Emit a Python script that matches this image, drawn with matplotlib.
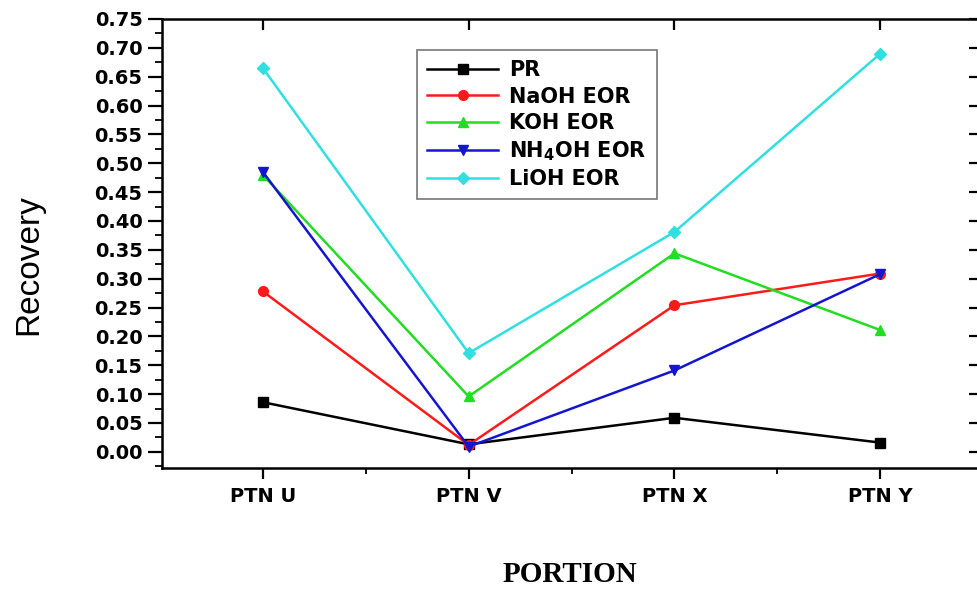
import matplotlib
matplotlib.use("Agg")
import matplotlib.pyplot as plt
import matplotlib.lines as mlines
from matplotlib.ticker import MultipleLocator, FixedLocator

categories = ["PTN U", "PTN V", "PTN X", "PTN Y"]
pr = [0.086, 0.013, 0.059, 0.016]
naoh = [0.278, 0.012, 0.254, 0.309]
koh = [0.480, 0.096, 0.344, 0.211]
nh4oh = [0.485, 0.009, 0.141, 0.308]
lioh = [0.665, 0.171, 0.381, 0.690]

series = [
    ("PR", pr, "#000000", "s"),
    ("NaOH EOR", naoh, "#ff1a1a", "o"),
    ("KOH EOR", koh, "#22dd22", "^"),
    (r"NH$_{\mathbf{4}}$OH EOR", nh4oh, "#1515d0", "v"),
    ("LiOH EOR", lioh, "#30e0e0", "D"),
]

plt.rcParams['mathtext.fontset'] = 'custom'
plt.rcParams['mathtext.bf'] = 'DejaVu Sans:bold'

fig = plt.figure(figsize=(9.77, 5.90), dpi=100)
ax = fig.add_axes([162/977, 1-468/590, 1-162/977, (468-19)/590])

x = list(range(1, len(categories)+1))
for label, vals, color, marker in series:
    ax.plot(x, vals, color=color, marker=marker, markersize=7 if marker != "D" else 6,
            linewidth=1.8, label=label)

ax.set_xlim(0.51, 4.47)
ax.set_ylim(-0.028, 0.75)
yt = [i*0.05 for i in range(16)]
ax.set_yticks(yt)
ax.set_yticklabels([f"{v:.2f}" for v in yt])
ax.yaxis.set_minor_locator(MultipleLocator(0.025))
ax.xaxis.set_major_locator(FixedLocator(x))
ax.xaxis.set_minor_locator(FixedLocator([1.5, 2.5, 3.5]))
ax.set_xticklabels(categories)

for s in ax.spines.values():
    s.set_linewidth(1.8)
ax.spines['right'].set_visible(False)

ax.tick_params(axis='y', which='major', direction='out', length=10, width=1.6,
               labelsize=14, pad=4, right=True)
ax.tick_params(axis='y', which='minor', direction='out', length=5, width=1.3, right=False)
ax.tick_params(axis='x', which='major', direction='out', length=8, width=1.6,
               labelsize=14, pad=6, top=True)
ax.tick_params(axis='x', which='minor', direction='out', length=4, width=1.3, top=False)
for lab in ax.get_yticklabels() + ax.get_xticklabels():
    lab.set_fontweight('bold')
    lab.set_family('DejaVu Sans')

# make top and right ticks point inward
for t in ax.xaxis.get_major_ticks():
    t.tick2line.set_marker(mlines.TICKDOWN)
for t in ax.yaxis.get_major_ticks():
    t.tick2line.set_marker(mlines.TICKLEFT)
    t.tick2line.set_markersize(6)

ax.set_ylabel("Recovery", fontsize=24, family='Liberation Sans')
ax.yaxis.set_label_coords(-0.145, 0.452)
fig.text(570/977, 1-575/590, "PORTION", fontsize=21, fontweight='bold',
         family='Liberation Serif', ha='center', va='center')

leg = ax.legend(loc='upper left', bbox_to_anchor=((417-162)/(977-162), 1-(50-19)/(468-19)),
                borderaxespad=0,
                prop={'family': 'DejaVu Sans', 'weight': 'bold', 'size': 15},
                frameon=True, fancybox=False, edgecolor='#555555', handlelength=3.4,
                labelspacing=0.3, borderpad=0.5, handletextpad=0.5)
leg.get_frame().set_linewidth(1.2)

fig.savefig("out.png", dpi=100)
